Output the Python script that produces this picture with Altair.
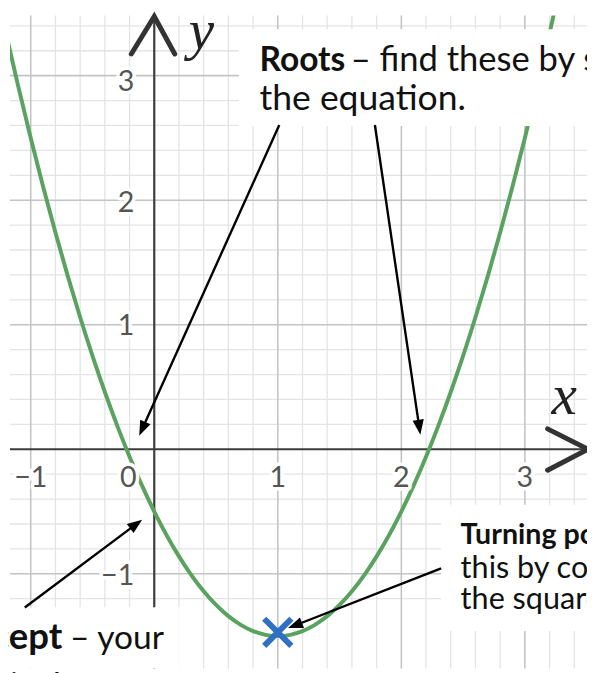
import math
import altair as alt
import pandas as pd

# ---------------- scale set-up (data units) ----------------
X_DOMAIN = [-1.168, 3.503]
Y_DOMAIN = [-1.760, 3.483]
PLOT_W, PLOT_H = 585, 662
PX_X = PLOT_W / (X_DOMAIN[1] - X_DOMAIN[0])
PX_Y = PLOT_H / (Y_DOMAIN[1] - Y_DOMAIN[0])

# ---------------- data ----------------
curve_x = [-1.2, -1.1, -1.0, -0.9, -0.8, -0.7, -0.6, -0.5, -0.4, -0.3, -0.2, -0.1,
           0.0, 0.1, 0.2, 0.3, 0.4, 0.5, 0.6, 0.7, 0.8, 0.9, 1.0, 1.1, 1.2, 1.3,
           1.4, 1.5, 1.6, 1.7, 1.8, 1.9, 2.0, 2.1, 2.2, 2.3, 2.4, 2.5, 2.6, 2.7,
           2.8, 2.9, 3.0, 3.1, 3.2, 3.3]
curve_y = [3.34, 2.91, 2.50, 2.11, 1.74, 1.39, 1.06, 0.75, 0.46, 0.19, -0.06, -0.29,
           -0.50, -0.69, -0.86, -1.01, -1.14, -1.25, -1.34, -1.41, -1.46, -1.49, -1.50,
           -1.49, -1.46, -1.41, -1.34, -1.25, -1.14, -1.01, -0.86, -0.69, -0.50, -0.29,
           -0.06, 0.19, 0.46, 0.75, 1.06, 1.39, 1.74, 2.11, 2.50, 2.91, 3.34, 3.79]

major_grid = [-1, 1, 2, 3]
minor_grid = [-1.2, -0.8, -0.6, -0.4, -0.2, 0.2, 0.4, 0.6, 0.8, 1.2, 1.4, 1.6, 1.8,
              2.2, 2.4, 2.6, 2.8, 3.2, 3.4]

x_tick_text = ["\u22121", "0", "1", "2", "3"]
x_tick_x = [-1.0, -0.21, 1.0, 2.0, 3.0]
x_tick_y = [-0.232, -0.232, -0.232, -0.232, -0.232]
y_tick_text = ["3", "2", "1", "\u22121"]
y_tick_x = [-0.162, -0.162, -0.162, -0.162]
y_tick_y = [2.95, 1.98, 0.985, -1.02]

turning_x = [1.0]
turning_y = [-1.47]

arrow_start_x = [1.012, 1.786, -1.048, 2.322]
arrow_start_y = [2.604, 2.604, -1.270, -0.957]
arrow_tip_x = [-0.122, 2.154, -0.098, 1.083]
arrow_tip_y = [0.109, 0.117, -0.565, -1.436]

box_x1 = [0.685, 2.322, -1.30]
box_x2 = [3.60, 3.60, 0.206]
box_y1 = [3.372, -0.446, -1.269]
box_y2 = [2.596, -1.459, -1.90]

note_text = ["Roots", "\u2013 find these by solving", "the equation.",
             "Turning point", "this by completing", "the square.",
             "y-intercept", "\u2013 your", "is the"]
note_x = [0.852, 1.590, 0.852, 2.480, 2.480, 2.480, -0.745, -0.682, -1.168]
note_y = [3.040, 3.040, 2.723, -0.762, -1.030, -1.285, -1.602, -1.602, -1.98]
note_bold = [True, False, False, True, False, False, True, False, False]
note_size = [34, 35, 36, 29, 31, 31, 37, 34, 34]
note_align = ["left", "left", "left", "left", "left", "left", "right", "left", "left"]

yaxis_arrow_x = [-0.186, 0.0, 0.166]
yaxis_arrow_y = [3.174, 3.475, 3.174]
xaxis_arrow_x = [3.184, 3.511, 3.184]
xaxis_arrow_y = [0.164, 0.0, -0.168]

axis_name_text = ["y", "x"]
axis_name_x = [0.381, 3.319]
axis_name_y = [3.214, 0.283]

# ---------------- tables ----------------
xs = alt.Scale(domain=X_DOMAIN, nice=False, zero=False)
ys = alt.Scale(domain=Y_DOMAIN, nice=False, zero=False)


def X(f):
    return alt.X(f, type="quantitative", scale=xs, axis=None)


def Y(f):
    return alt.Y(f, type="quantitative", scale=ys, axis=None)


curve_df = pd.DataFrame({"x": curve_x, "y": curve_y})
minor_df = pd.DataFrame({"v": minor_grid})
major_df = pd.DataFrame({"v": major_grid})
zero_df = pd.DataFrame({"v": [0]})
xt_df = pd.DataFrame({"t": x_tick_text, "x": x_tick_x, "y": x_tick_y})
yt_df = pd.DataFrame({"t": y_tick_text, "x": y_tick_x, "y": y_tick_y})
box_df = pd.DataFrame({"x1": box_x1, "x2": box_x2, "y1": box_y1, "y2": box_y2})

# arrows: shorten the shaft so it ends inside the head, compute head angle
rows = []
for sx, sy, tx, ty in zip(arrow_start_x, arrow_start_y, arrow_tip_x, arrow_tip_y):
    dxp = (tx - sx) * PX_X
    dyp = -(ty - sy) * PX_Y
    L = math.hypot(dxp, dyp)
    back = 8.0
    ex = tx - (dxp / L) * back / PX_X
    ey = ty + (dyp / L) * back / PX_Y
    ang = math.degrees(math.atan2(dxp, -dyp)) % 360
    rows.append({"sx": sx, "sy": sy, "ex": ex, "ey": ey, "tx": tx, "ty": ty, "ang": ang})
arrow_df = pd.DataFrame(rows)

chev_df = pd.DataFrame({
    "x": yaxis_arrow_x + xaxis_arrow_x,
    "y": yaxis_arrow_y + xaxis_arrow_y,
    "g": ["y"] * 3 + ["x"] * 3,
    "o": [0, 1, 2, 0, 1, 2],
})
name_df = pd.DataFrame({"t": axis_name_text, "x": axis_name_x, "y": axis_name_y})
tp_df = pd.DataFrame({"x": turning_x, "y": turning_y})

# ---------------- layers ----------------
minor_v = alt.Chart(minor_df).mark_rule(color="#e4e4e4", strokeWidth=1.3).encode(x=X("v"))
minor_h = alt.Chart(minor_df).mark_rule(color="#e4e4e4", strokeWidth=1.3).encode(y=Y("v"))
major_v = alt.Chart(major_df).mark_rule(color="#c4c4c4", strokeWidth=1.6).encode(x=X("v"))
major_h = alt.Chart(major_df).mark_rule(color="#c4c4c4", strokeWidth=1.6).encode(y=Y("v"))
axis_v = alt.Chart(zero_df).mark_rule(color="#3c3c3c", strokeWidth=2.2).encode(x=X("v"))
axis_h = alt.Chart(zero_df).mark_rule(color="#3c3c3c", strokeWidth=2.2).encode(y=Y("v"))

curve = alt.Chart(curve_df).mark_line(
    color="#5aa260", strokeWidth=4, interpolate="monotone", clip=True
).encode(x=X("x"), y=Y("y"))

tick_common = dict(font="Lato", fontSize=29, baseline="middle")
xt_halo = alt.Chart(xt_df).mark_text(align="center", stroke="white", strokeWidth=7,
                                     strokeJoin="round", fill="white", **tick_common
                                     ).encode(x=X("x"), y=Y("y"), text="t:N")
xt_text = alt.Chart(xt_df).mark_text(align="center", color="#555555", **tick_common
                                     ).encode(x=X("x"), y=Y("y"), text="t:N")
yt_halo = alt.Chart(yt_df).mark_text(align="right", stroke="white", strokeWidth=7,
                                     strokeJoin="round", fill="white", **tick_common
                                     ).encode(x=X("x"), y=Y("y"), text="t:N")
yt_text = alt.Chart(yt_df).mark_text(align="right", color="#555555", **tick_common
                                     ).encode(x=X("x"), y=Y("y"), text="t:N")

boxes = alt.Chart(box_df).mark_rect(color="white", clip=True).encode(
    x=X("x1"), x2="x2", y=Y("y1"), y2="y2")

chevrons = alt.Chart(chev_df).mark_line(
    color="#333333", strokeWidth=5, strokeCap="round", strokeJoin="miter"
).encode(x=X("x"), y=Y("y"), detail="g:N", order="o:Q")

names = alt.Chart(name_df).mark_text(
    font="Liberation Serif", fontStyle="italic", fontSize=58, align="center",
    baseline="alphabetic", color="#222222"
).encode(x=X("x"), y=Y("y"), text="t:N")

note_layers = []
for t, x, y, b, s, a in zip(note_text, note_x, note_y, note_bold, note_size, note_align):
    d = pd.DataFrame({"t": [t], "x": [x], "y": [y]})
    note_layers.append(
        alt.Chart(d).mark_text(
            font="Lato", fontSize=s, fontWeight="bold" if b else "normal",
            align=a, baseline="alphabetic", color="#111111"
        ).encode(x=X("x"), y=Y("y"), text="t:N")
    )

shafts = alt.Chart(arrow_df).mark_rule(color="black", strokeWidth=2.4).encode(
    x=X("sx"), y=Y("sy"), x2="ex", y2="ey")
heads = alt.Chart(arrow_df).mark_point(
    shape="M0,0L0.75,2L-0.75,2Z", filled=True, color="black", opacity=1, size=230
).encode(x=X("tx"), y=Y("ty"), angle=alt.Angle("ang:Q", scale=None))

marker = alt.Chart(tp_df).mark_point(
    shape="M-1,-1L1,1M-1,1L1,-1", filled=False, color="#2f6fc4", strokeWidth=6,
    size=760, opacity=1, strokeCap="butt"
).encode(x=X("x"), y=Y("y"))

chart = alt.layer(
    minor_v, minor_h, major_v, major_h, axis_v, axis_h, curve,
    xt_halo, xt_text, yt_halo, yt_text,
    boxes, chevrons, names, *note_layers, shafts, heads, marker
).properties(
    width=PLOT_W, height=PLOT_H,
    autosize=alt.AutoSizeParams(type="none"),
    padding={"left": 2, "top": 3, "right": 0, "bottom": 0},
).configure_view(strokeWidth=0)

chart.save("out.html", embed_options={"renderer": "svg", "actions": False})
